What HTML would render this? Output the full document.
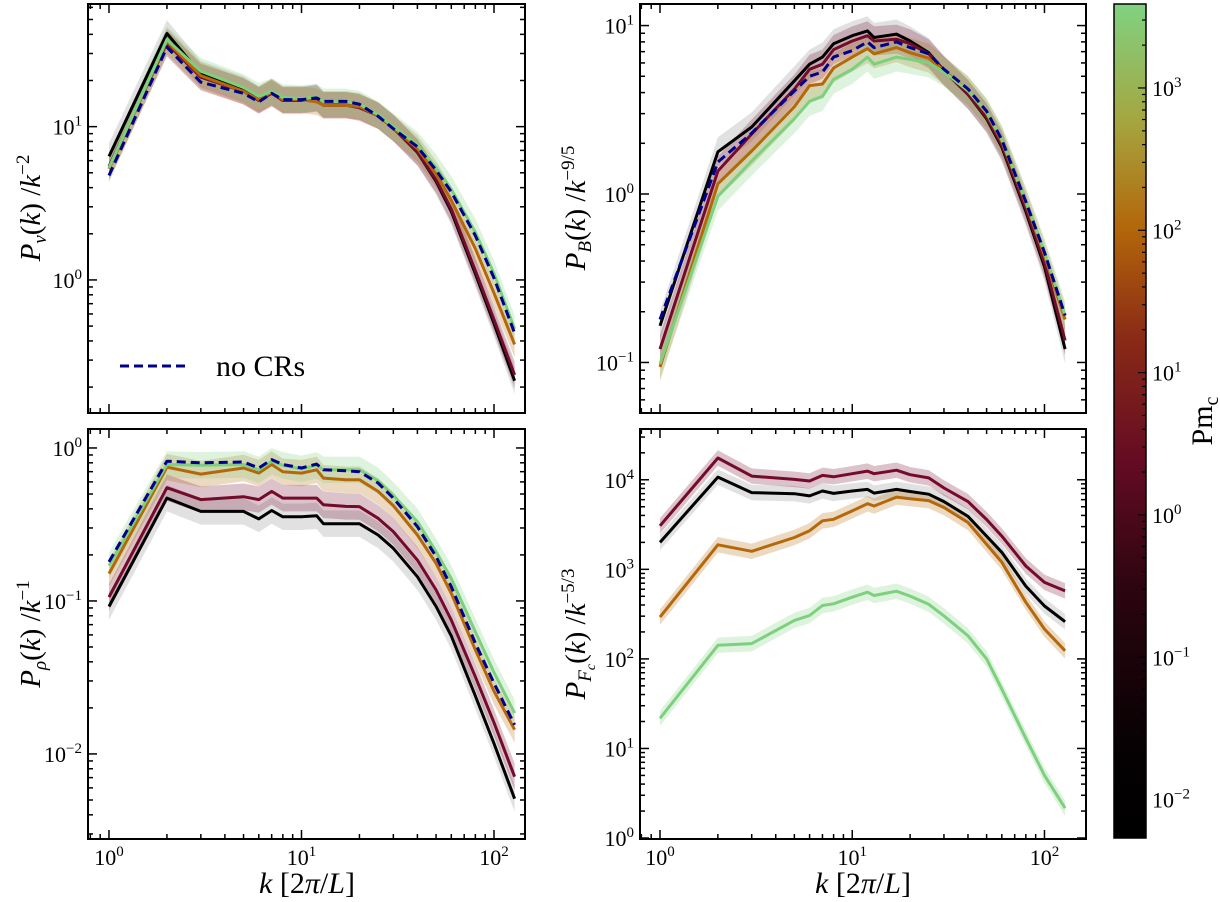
<!DOCTYPE html>
<html><head><meta charset="utf-8"><style>
html,body{margin:0;padding:0;background:#fff;}
svg{display:block;font-family:"Liberation Serif",serif;}
</style></head><body>
<svg id="fig" width="1220" height="902" viewBox="0 0 1220 902" xmlns="http://www.w3.org/2000/svg">
<defs>
<linearGradient id="cbgrad" x1="0" y1="1" x2="0" y2="0">
<stop offset="0" stop-color="#000000"/>
<stop offset="0.1" stop-color="#050102"/>
<stop offset="0.3" stop-color="#2c0510"/>
<stop offset="0.45" stop-color="#640b24"/>
<stop offset="0.6" stop-color="#8a2a16"/>
<stop offset="0.73" stop-color="#b3660a"/>
<stop offset="0.86" stop-color="#a5a640"/>
<stop offset="1" stop-color="#80d282"/>
</linearGradient>
</defs>
<g id="plots"></g>
<rect x="1114" y="4" width="32" height="834" fill="url(#cbgrad)" stroke="#000" stroke-width="1.5"/>
<g id="cbticks"></g>
<text x="1212" y="421" font-size="30" text-anchor="middle" transform="rotate(-90 1212 421)">Pm<tspan font-size="20" dy="6">c</tspan></text>
<text x="307" y="893" font-size="30" text-anchor="middle"><tspan font-style="italic">k</tspan> [2<tspan font-style="italic">π</tspan>/<tspan font-style="italic">L</tspan>]</text>
<text x="863" y="893" font-size="30" text-anchor="middle"><tspan font-style="italic">k</tspan> [2<tspan font-style="italic">π</tspan>/<tspan font-style="italic">L</tspan>]</text>
<text x="40" y="208" font-size="29" text-anchor="middle" transform="rotate(-90 40 208)"><tspan font-style="italic">P</tspan><tspan font-style="italic" font-size="19" dy="6">v</tspan><tspan dy="-6">(</tspan><tspan font-style="italic">k</tspan>) /<tspan font-style="italic">k</tspan><tspan font-size="19" dy="-11">−2</tspan></text>
<text x="585" y="208" font-size="29" text-anchor="middle" transform="rotate(-90 585 208)"><tspan font-style="italic">P</tspan><tspan font-style="italic" font-size="19" dy="6">B</tspan><tspan dy="-6">(</tspan><tspan font-style="italic">k</tspan>) /<tspan font-style="italic">k</tspan><tspan font-size="19" dy="-11">−9/5</tspan></text>
<text x="40" y="634" font-size="29" text-anchor="middle" transform="rotate(-90 40 634)"><tspan font-style="italic">P</tspan><tspan font-style="italic" font-size="19" dy="6">ρ</tspan><tspan dy="-6">(</tspan><tspan font-style="italic">k</tspan>) /<tspan font-style="italic">k</tspan><tspan font-size="19" dy="-11">−1</tspan></text>
<text x="585" y="634" font-size="29" text-anchor="middle" transform="rotate(-90 585 634)"><tspan font-style="italic">P</tspan><tspan font-style="italic" font-size="19" dy="6">F<tspan font-size="14" dy="4">c</tspan></tspan><tspan dy="-10">(</tspan><tspan font-style="italic">k</tspan>) /<tspan font-style="italic">k</tspan><tspan font-size="19" dy="-11">−5/3</tspan></text>
<g>
<line x1="120" y1="366" x2="190" y2="366" stroke="#00008b" stroke-width="3" stroke-dasharray="9,5"/>
<text x="216" y="376" font-size="30">no CRs</text>
</g>
</svg>
<script>
const kVals = [1,2,3,5,6,7,8,10,12,13,17,20,25,30,40,50,60,80,100,128];
// Top-left: P_v
const tlBlack = [6.4,40.5,22,17.5,15,16.8,15,15,15.5,14,14,13.5,11.8,9.8,6.8,4.4,2.8,1.1,0.52,0.22];
const tlRed   = [5.5,35,21,17,14.8,16.5,14.8,14.8,15.3,13.8,13.8,13.3,11.8,9.8,6.8,4.5,2.9,1.15,0.55,0.24];
const tlBrown = [5.3,36,21.5,17,15,16.8,15,15,14.5,13.8,13.8,13.5,11.8,9.8,7.2,4.9,3.3,1.6,0.82,0.38];
const tlGreen = [5.4,37,23,18,15.8,17,15.5,15.2,15.6,14.5,14.5,14,12.0,10.0,7.6,5.4,3.9,2.05,1.1,0.48];
const tlBlue  = [4.8,33,19.5,16.5,14.5,16.5,15,15,15.4,14.6,14.6,14,11.7,9.7,7.4,5.2,3.75,1.95,1.03,0.45];
// Top-right: P_B
const trBlack = [0.165,1.78,2.5,4.7,5.9,6.5,7.8,8.7,9.3,8.5,8.9,8.1,6.9,5.4,3.9,2.8,1.9,0.79,0.37,0.12];
const trRed   = [0.12,1.37,2.27,4.2,5.5,5.9,7.2,8.1,8.7,8.1,8.3,7.8,6.8,5.4,3.9,2.85,1.95,0.82,0.39,0.135];
const trBrown = [0.094,1.15,1.8,3.3,4.4,4.5,5.6,6.5,7.3,6.8,7.4,6.9,6.4,5.4,4.1,3.0,2.05,0.88,0.43,0.18];
const trGreen = [0.098,0.97,1.57,2.8,3.55,3.8,4.8,5.5,6.5,5.9,6.5,6.3,6.0,5.3,4.1,3.05,2.1,0.9,0.45,0.19];
const trBlue  = [0.18,1.55,2.3,4.1,5.0,5.3,6.5,7.1,8.0,7.4,8.0,7.4,6.8,5.5,4.2,3.1,2.1,0.9,0.45,0.19];
// Bottom-left: P_rho
const blBlack = [0.092,0.47,0.385,0.385,0.344,0.39,0.355,0.355,0.36,0.32,0.32,0.32,0.27,0.221,0.144,0.092,0.059,0.024,0.0117,0.0051];
const blRed   = [0.106,0.55,0.46,0.48,0.46,0.52,0.47,0.47,0.47,0.425,0.415,0.414,0.347,0.284,0.185,0.118,0.075,0.032,0.016,0.0071];
const blBrown = [0.151,0.75,0.675,0.74,0.685,0.78,0.70,0.685,0.72,0.635,0.62,0.62,0.52,0.42,0.27,0.176,0.112,0.048,0.0257,0.0144];
const blGreen = [0.17,0.78,0.77,0.78,0.72,0.82,0.77,0.73,0.77,0.72,0.72,0.72,0.61,0.49,0.33,0.21,0.14,0.063,0.034,0.0185];
const blBlue  = [0.18,0.82,0.80,0.81,0.74,0.84,0.78,0.74,0.785,0.72,0.71,0.70,0.59,0.47,0.306,0.195,0.124,0.053,0.029,0.0155];
// Bottom-right: P_Fc
const brBlack = [2000,10700,7200,7000,6600,7500,7050,7500,7800,7100,7800,7400,6900,5700,3900,2350,1550,650,390,260];
const brRed   = [3060,17500,11000,10100,9700,11200,10800,11700,12500,11700,12800,11400,10500,8100,5700,3600,2350,1090,715,575];
const brBrown = [293,1880,1590,2270,2700,3480,3620,4490,5400,5100,6400,6150,5850,4900,3330,1900,1200,430,215,123];
const brGreen = [21.7,142,148,269,305,395,412,489,555,510,570,503,407,302,181,100,46,13,5.0,2.15];
// Colorbar
const cbTickExps = [-2,-1,0,1,2,3];

const NS = "http://www.w3.org/2000/svg";
function mk(tag, attrs, parent){
  const e = document.createElementNS(NS, tag);
  for (const a in attrs) e.setAttribute(a, attrs[a]);
  parent.appendChild(e);
  return e;
}
const plots = document.getElementById('plots');
const C = {black:'#000000', red:'#740b2b', brown:'#b5680a', green:'#7dd07d', blue:'#00008b'};

const panels = [
  {id:'velocity', x0:88,x1:525,y0:4,y1:413, lx0:-0.109,lx1:2.161, ly0:-0.868,ly1:1.80, xlabels:false, yexp:[0,1],
   series:[['black',tlBlack],['red',tlRed],['brown',tlBrown],['green',tlGreen],['blue',tlBlue]]},
  {id:'magnetic', x0:640,x1:1086,y0:4,y1:413, lx0:-0.104,lx1:2.216, ly0:-1.30,ly1:1.128, xlabels:false, yexp:[-1,0,1],
   series:[['black',trBlack],['red',trRed],['brown',trBrown],['green',trGreen],['blue',trBlue]]},
  {id:'density', x0:88,x1:525,y0:429,y1:839, lx0:-0.109,lx1:2.161, ly0:-2.556,ly1:0.124, xlabels:true, yexp:[-2,-1,0],
   series:[['black',blBlack],['red',blRed],['brown',blBrown],['green',blGreen],['blue',blBlue]]},
  {id:'crflux', x0:640,x1:1086,y0:429,y1:839, lx0:-0.104,lx1:2.216, ly0:-0.011,ly1:4.567, xlabels:true, yexp:[0,1,2,3,4],
   series:[['black',brBlack],['red',brRed],['brown',brBrown],['green',brGreen]]}
];

function supLabel(parent, x, y, exp, anchor, name){
  const t = mk('text', {x:x, y:y, 'font-size':22, 'text-anchor':anchor}, parent);
  
  
  const a = mk('tspan', {}, t); a.textContent = '10';
  const b = mk('tspan', {'font-size':15, dy:-9}, t); b.textContent = (exp<0?'−':'') + Math.abs(exp);
  return t;
}

panels.forEach(p => {
  const g = mk('g', {}, plots);
  
  
  const xs = k => p.x0 + (Math.log10(k) - p.lx0) / (p.lx1 - p.lx0) * (p.x1 - p.x0);
  const ys = v => p.y1 - (Math.log10(v) - p.ly0) / (p.ly1 - p.ly0) * (p.y1 - p.y0);
  const clip = mk('clipPath', {id:'clip-'+p.id}, g);
  mk('rect', {x:p.x0, y:p.y0, width:p.x1-p.x0, height:p.y1-p.y0}, clip);
  const data = mk('g', {'clip-path':'url(#clip-'+p.id+')'}, g);
  p.series.forEach(([c, arr]) => {
    if (c === 'blue') return;
    const up = kVals.map((k,i) => xs(k)+','+ys(arr[i]*1.22)).join(' ');
    const dn = kVals.map((k,i) => xs(k)+','+ys(arr[i]/1.22)).reverse().join(' ');
    const band = mk('polygon', {points: up+' '+dn, fill: c==='black' ? '#888' : C[c], 'fill-opacity': 0.25, stroke:'none'}, data);
    
    
  });
  p.series.forEach(([c, arr]) => {
    const pts = kVals.map((k,i) => xs(k).toFixed(1)+','+ys(arr[i]).toFixed(1)).join(' ');
    const attrs = {points:pts, fill:'none', stroke:C[c], 'stroke-width':3, 'stroke-linejoin':'round'};
    if (c === 'blue') attrs['stroke-dasharray'] = '9,5';
    const line = mk('polyline', attrs, data);
    
    
  });
  const tk = mk('g', {stroke:'#000', 'stroke-width':1.5}, g);
  for (let d = -1; d <= 2; d++) for (let m = 1; m <= 9; m++) {
    const lk = d + Math.log10(m);
    if (lk < p.lx0 || lk > p.lx1) continue;
    const x = xs(Math.pow(10, lk)); const L = m===1 ? 9 : 5;
    mk('line', {x1:x, y1:p.y1, x2:x, y2:p.y1-L}, tk);
    mk('line', {x1:x, y1:p.y0, x2:x, y2:p.y0+L}, tk);
  }
  for (let d = -3; d <= 4; d++) for (let m = 1; m <= 9; m++) {
    const lv = d + Math.log10(m);
    if (lv < p.ly0 || lv > p.ly1) continue;
    const y = ys(Math.pow(10, lv)); const L = m===1 ? 9 : 5;
    mk('line', {x1:p.x0, y1:y, x2:p.x0+L, y2:y}, tk);
    mk('line', {x1:p.x1, y1:y, x2:p.x1-L, y2:y}, tk);
  }
  p.yexp.forEach(e => supLabel(g, p.x0-6, ys(Math.pow(10,e))+8, e, 'end', 'y-tick-' + p.id + '-' + e));
  if (p.xlabels) [0,1,2].forEach(e => supLabel(g, xs(Math.pow(10,e)), p.y1+26, e, 'middle', 'x-tick-' + p.id + '-' + e));
  const frame = mk('rect', {x:p.x0, y:p.y0, width:p.x1-p.x0, height:p.y1-p.y0, fill:'none', stroke:'#000', 'stroke-width':2}, g);
  
  
});

const cb = document.getElementById('cbticks');
const cbY = lv => 838 - (lv - (-2.27)) / (3.59 - (-2.27)) * 834;
for (let d = -3; d <= 3; d++) for (let m = 1; m <= 9; m++) {
  const lv = d + Math.log10(m);
  if (lv < -2.27 || lv > 3.59) continue;
  const y = cbY(lv); const L = m===1 ? 8 : 4;
  mk('line', {x1:1146, y1:y, x2:1146-L, y2:y, stroke:'#000', 'stroke-width':1.2}, cb);
}
cbTickExps.forEach(e => supLabel(cb, 1152, cbY(e)+8, e, 'start', 'colorbar-tick-' + e));
</script>
</body></html>
